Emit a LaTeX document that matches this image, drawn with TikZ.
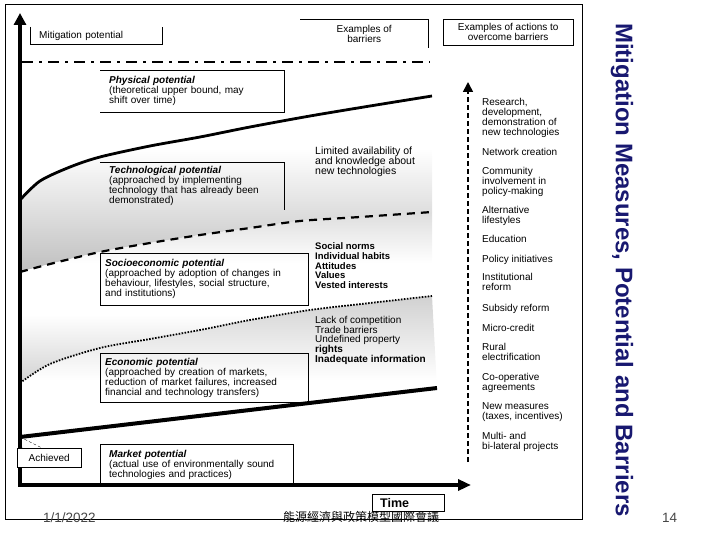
\documentclass[tikz,border=0pt]{standalone}
\usepackage{fontspec}
\setmainfont{Liberation Sans}
\newfontfamily\cjkfont{Noto Sans CJK TC}
\usetikzlibrary{arrows.meta,positioning,calc}
\definecolor{titlenavy}{RGB}{24,24,112}
\definecolor{footgray}{RGB}{70,70,70}
\pgfdeclareverticalshading{topband}{100bp}{color(0bp)=(black!42); color(25bp)=(black!25); color(60bp)=(white); color(100bp)=(white)}
\pgfdeclareverticalshading{midband}{100bp}{color(0bp)=(black!40); color(45bp)=(white); color(60bp)=(white); color(100bp)=(black!35)}
\pgfdeclareverticalshading{lowband}{100bp}{color(0bp)=(white); color(45bp)=(white); color(75bp)=(black!18); color(100bp)=(black!38)}

\tikzset{
  lbl/.style={anchor=north west, inner sep=0pt, align=left, font=\fontsize{10}{10}\selectfont},
  potbox/.style={anchor=north west, inner xsep=9pt, inner ysep=0pt, align=left,
                 font=\fontsize{10}{10}\selectfont},
  headbox/.style={anchor=north west, inner sep=0pt, align=center,
                  font=\fontsize{10}{10}\selectfont},
  axisline/.style={line width=4pt, {Triangle[length=12pt,width=12pt]}-{Triangle[length=13pt,width=11pt]}},
}

\begin{document}
\begin{tikzpicture}[x=1pt,y=-1pt]
    \useasboundingbox (0,0) rectangle (720,540);
    \draw[line width=1pt] (5,5) rectangle (582,519);

    % shaded bands between the potentials
    \shade[shading=topband]
      plot[smooth] coordinates {(20,200) (40,181) (70,167) (100,157) (150,146) (200,137) (250,127) (310,116) (370,106) (432,96)}
      -- plot[smooth] coordinates {(432,212) (360,217) (300,221) (250,228) (200,235) (150,243) (100,252) (50,264) (20,272)} -- cycle;
    \shade[shading=midband]
      plot[smooth] coordinates {(20,272) (50,264) (100,252) (150,243) (200,235) (250,228) (300,221) (360,217) (432,212)}
      -- plot[smooth] coordinates {(432,296) (370,303) (310,310) (250,320) (200,330) (150,339) (100,348) (50,364) (20,383)} -- cycle;
    \shade[shading=lowband]
      plot[smooth] coordinates {(20,383) (50,364) (100,348) (150,339) (200,330) (250,320) (310,310) (370,303) (432,296)}
      -- (437,388) -- (20,437) -- cycle;

    % curves
    \draw[line width=2.8pt] plot[smooth] coordinates {(20,200) (40,181) (70,167) (100,157) (150,146) (200,137) (250,127) (310,116) (370,106) (432,96)};
    \draw[line width=2.2pt, dash pattern=on 8pt off 6pt] plot[smooth] coordinates {(20,272) (50,264) (100,252) (150,243) (200,235) (250,228) (300,221) (360,217) (432,212)};
    \draw[line width=1.8pt, dash pattern=on 1.6pt off 1.4pt] plot[smooth] coordinates {(20,383) (50,364) (100,348) (150,339) (200,330) (250,320) (310,310) (370,303) (432,296)};
    \coordinate (mk0) at (20,437);
    \coordinate (mk1) at (437,388);
    \draw[line width=4pt] (mk0) -- (mk1);

    \coordinate (dd0) at (22,62);
    \coordinate (dd1) at (430,62);
    \draw[line width=2.6pt, dash pattern=on 11pt off 6pt on 3pt off 6pt] (dd0) -- (dd1);

    % axes
    \coordinate (O) at (20,485);
    \coordinate (ytop) at (20,13);
    \coordinate (xend) at (471,485);
    \draw[axisline] (ytop) -- (O) -- (xend);

    % header boxes
    \node[potbox, minimum width=132pt, minimum height=17pt, text width=114pt] (mitbox) at (30,27) {Mitigation potential};
    \draw[thin] (mitbox.north west) -- (mitbox.south west) -- (mitbox.south east) -- (mitbox.north east);
    \node[headbox, minimum width=128pt, minimum height=29pt] (barhead) at (300,19) {Examples of\\barriers};
    \draw[thin] (barhead.north west) -- (barhead.north east) -- (barhead.south east);
    \node[headbox, draw, thin, minimum width=130pt, minimum height=26pt] (acthead) at (443,19) {Examples of actions to\\overcome barriers};

    % potential boxes
    \node[potbox, minimum width=184pt, minimum height=42pt, text width=166pt] (physbox) at (100,70)
      {\textbf{\textit{Physical potential}}\\(theoretical upper bound, may\\shift over time)};
    \draw[thin] (physbox.north west) -- (physbox.north east) -- (physbox.south east) -- (physbox.south west);
    \node[potbox, minimum width=184pt, minimum height=48pt, text width=166pt] (techbox) at (100,162)
      {\textbf{\textit{Technological potential}}\\(approached by implementing\\technology that has already been\\demonstrated)};
    \draw[thin] (techbox.north west) -- (techbox.north east) -- (techbox.south east);
    \node[potbox, draw, thin, inner xsep=5pt, minimum width=208pt, minimum height=52pt, text width=198pt] (sociobox) at (100,253)
      {\textbf{\textit{Socioeconomic potential}}\\(approached by adoption of changes in\\behaviour, lifestyles, social structure,\\and institutions)};
    \node[potbox, draw, thin, inner xsep=5pt, minimum width=208pt, minimum height=49pt, text width=198pt] (econbox) at (100,353)
      {\textbf{\textit{Economic potential}}\\(approached by creation of markets,\\reduction of market failures, increased\\financial and technology transfers)};
    \node[potbox, draw, thin, minimum width=193pt, minimum height=41pt, text width=175pt] (marketbox) at (100,444)
      {\textbf{\textit{Market potential}}\\(actual use of environmentally sound\\technologies and practices)};
    \node[headbox, draw, thin, fill=white, minimum width=64pt, minimum height=19pt] (achbox) at (17,448) {Achieved};
    \draw[thin, densely dashed] (mk0) -- ($(achbox.north west)+(5,0)$);
    \draw[thin, densely dashed] (mk0) -- ($(achbox.north west)+(25,0)$);
    \node[potbox, draw, thin, inner xsep=8pt, minimum width=72pt, minimum height=17pt, text width=56pt,
          font=\fontsize{12.5}{12.5}\bfseries] (timebox) at (372,494) {Time};

    % barriers
    \node[lbl, font=\fontsize{10.5}{10}\selectfont] (bar1) at (315,147) {Limited availability of\\and knowledge about\\new technologies};
    \node[lbl, font=\fontsize{9.5}{9.75}\bfseries] (bar2) at (315,242.5) {Social norms\\Individual habits\\Attitudes\\Values\\Vested interests};
    \node[lbl, font=\fontsize{10}{9.6}\selectfont] (bar3) at (315,316.3) {Lack of competition\\Trade barriers\\Undefined property\\\textbf{rights}\\\textbf{Inadequate information}};

    % actions
    \coordinate (act0) at (468,462);
    \coordinate (act1) at (468,82);
    \draw[line width=1.6pt, dash pattern=on 5pt off 3pt, -{Triangle[length=10pt,width=10pt]}] (act0) -- (act1);
    \node[lbl] (act01) at (482,98.3) {Research,\\development,\\demonstration of\\new technologies};
    \node[lbl] (act02) at (482,148.3) {Network creation};
    \node[lbl] (act03) at (482,167.3) {Community\\involvement in\\policy-making};
    \node[lbl] (act04) at (482,206.3) {Alternative\\lifestyles};
    \node[lbl] (act05) at (482,235.3) {Education};
    \node[lbl] (act06) at (482,255.3) {Policy initiatives};
    \node[lbl] (act07) at (482,273.3) {Institutional\\reform};
    \node[lbl] (act08) at (482,304.3) {Subsidy reform};
    \node[lbl] (act09) at (482,324.3) {Micro-credit};
    \node[lbl] (act10) at (482,343.3) {Rural\\electrification};
    \node[lbl] (act11) at (482,373.3) {Co-operative\\agreements};
    \node[lbl] (act12) at (482,402.3) {New measures\\(taxes, incentives)};
    \node[lbl] (act13) at (482,432.3) {Multi- and\\bi-lateral projects};

    % slide title and footer
    \node[rotate=-90, font=\fontsize{24}{24}\bfseries, text=titlenavy] (title) at (622,270)
      {Mitigation Measures, Potential and Barriers};
    \node[anchor=base west, inner sep=0pt, font=\fontsize{13.5}{14}\selectfont, text=footgray] (date) at (43,522) {1/1/2022};
    \node[anchor=base west, inner sep=0pt, font=\cjkfont\fontsize{12}{12}\selectfont] (conf) at (283,521) {能源經濟與政策模型國際會議};
    \node[anchor=base west, inner sep=0pt, font=\fontsize{13.5}{14}\selectfont, text=footgray] (page) at (662,522) {14};
  \end{tikzpicture}
\end{document}
